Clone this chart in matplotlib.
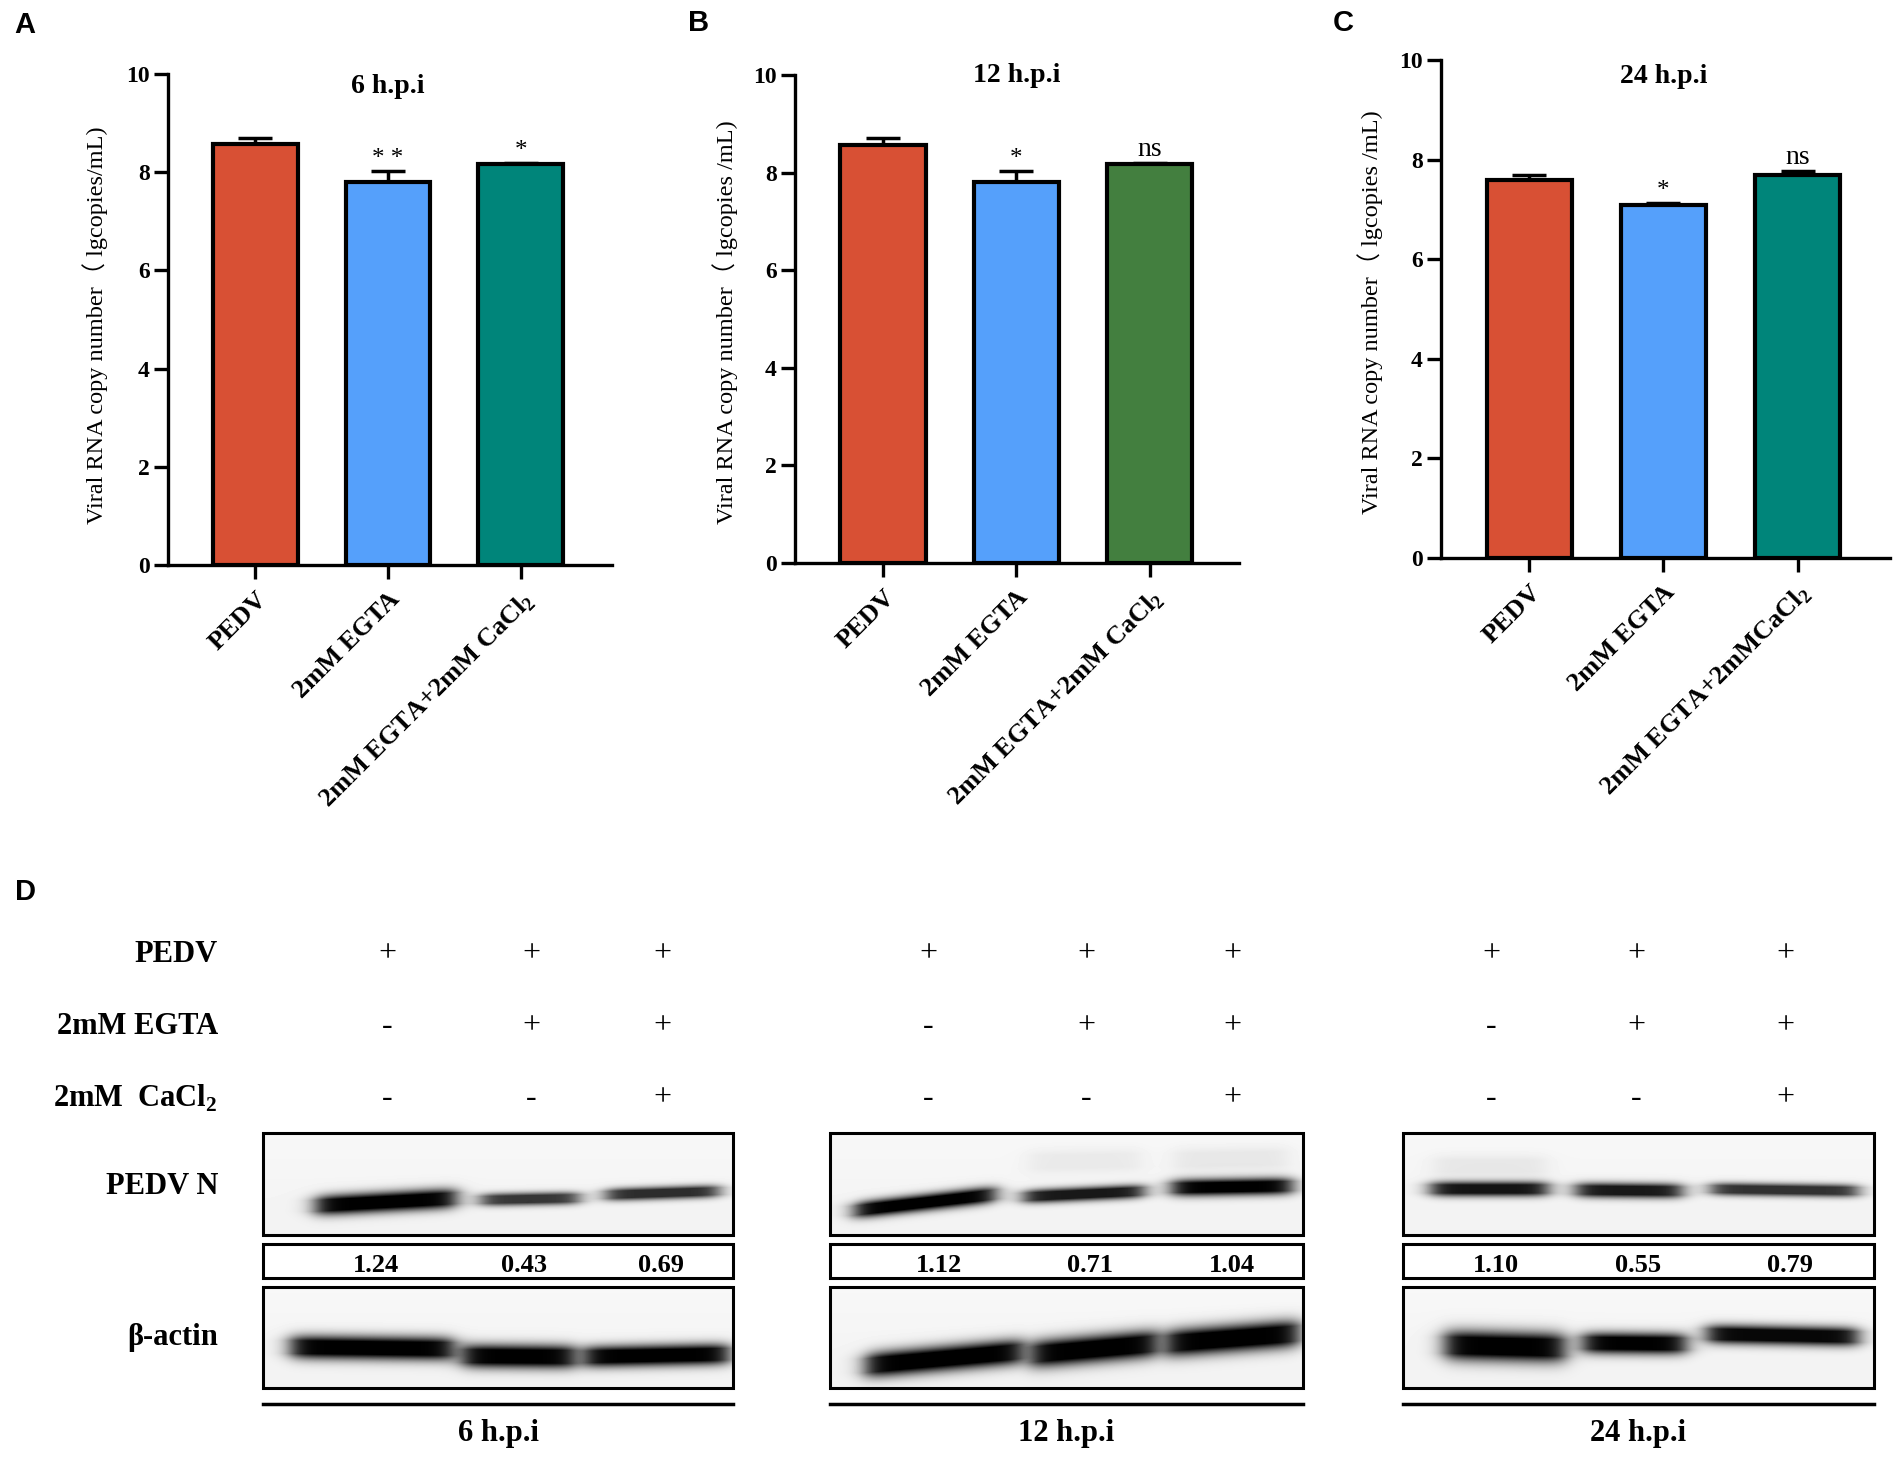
import numpy as np
import matplotlib
matplotlib.use("Agg")
import matplotlib.pyplot as plt
from matplotlib.patches import Rectangle

plt.rcParams['font.family'] = ['Liberation Serif', 'Noto Sans CJK SC', 'DejaVu Sans']
plt.rcParams['mathtext.fontset'] = 'custom'
plt.rcParams['mathtext.rm'] = 'Liberation Serif'
plt.rcParams['mathtext.bf'] = 'Liberation Serif:bold'

W, H = 1902, 1459

# ---- data ----
groups_ab = ["PEDV", "2mM EGTA", "2mM EGTA+2mM CaCl$_\\mathbf{2}$"]
groups_c = ["PEDV", "2mM EGTA", "2mM EGTA+2mMCaCl$_\\mathbf{2}$"]
times = ["6 h.p.i", "12 h.p.i", "24 h.p.i"]

means_6 = [8.57, 7.80, 8.16]
err_6 = [0.13, 0.23, 0.03]
sig_6 = ["", "* *", "*"]

means_12 = [8.57, 7.80, 8.17]
err_12 = [0.13, 0.24, 0.03]
sig_12 = ["", "*", "ns"]

means_24 = [7.60, 7.09, 7.69]
err_24 = [0.09, 0.04, 0.08]
sig_24 = ["", "*", "ns"]

ylabels = ["Viral RNA copy number\uff08 lgcopies/mL)",
           "Viral RNA copy number\uff08 lgcopies /mL)",
           "Viral RNA copy number\uff08 lgcopies /mL)"]

row_names = ["PEDV", "2mM EGTA", "2mM  CaCl$_\\mathbf{2}$"]
blot_names = ["PEDV N", "\u03b2-actin"]
treat_pedv = ["+", "+", "+"]
treat_egta = ["-", "+", "+"]
treat_cacl = ["-", "-", "+"]
ratios = [[1.24, 0.43, 0.69], [1.12, 0.71, 1.04], [1.10, 0.55, 0.79]]

red, blue, teal, green = "#D85034", "#55A0FB", "#00857A", "#437F3F"
bar_colors = [[red, blue, teal], [red, blue, green], [red, blue, teal]]

fig = plt.figure(figsize=(W / 100, H / 100), dpi=100)


def px_axes(x0, x1, y0, y1):
    return fig.add_axes([x0 / W, 1 - y1 / H, (x1 - x0) / W, (y1 - y0) / H])


# ---- bar panels ----
panels = [
    dict(box=(168, 612, 74, 565), xlim=(-0.66, 2.69), m=means_6, e=err_6, s=sig_6,
         lab=groups_ab, ty=9.75, yl=(95, 325), letter=("A", 14, 25)),
    dict(box=(795, 1239, 75, 563), xlim=(-0.66, 2.67), m=means_12, e=err_12, s=sig_12,
         lab=groups_ab, ty=9.98, yl=(725, 322), letter=("B", 688, 23)),
    dict(box=(1441, 1890, 60, 558), xlim=(-0.66, 2.69), m=means_24, e=err_24, s=sig_24,
         lab=groups_c, ty=9.67, yl=(1370, 312), letter=("C", 1333, 23)),
]

for i, p in enumerate(panels):
    ax = px_axes(*p["box"])
    x = np.arange(3)
    ax.errorbar(x, p["m"], yerr=[np.zeros(3), p["e"]], fmt="none", ecolor="black",
                elinewidth=2.5, capsize=12, capthick=2.5, zorder=1)
    ax.bar(x, p["m"], width=0.64, color=bar_colors[i], edgecolor="black",
           linewidth=3, zorder=2)
    for xi, mv, ev, st in zip(x, p["m"], p["e"], p["s"]):
        if st:
            fs = 20 if st == "ns" else 18
            ax.text(xi, mv + ev + 0.02, st, ha="center", va="bottom", fontsize=fs)
    ax.set_xlim(*p["xlim"])
    ax.set_ylim(0, 10)
    ax.set_yticks([0, 2, 4, 6, 8, 10])
    ax.set_xticks(x)
    ax.set_xticklabels(p["lab"], rotation=45, ha="right", rotation_mode="anchor",
                       fontweight="bold", fontsize=19)
    for t in ax.get_yticklabels():
        t.set_fontweight("bold")
        t.set_fontsize(17)
    ax.spines["top"].set_visible(False)
    ax.spines["right"].set_visible(False)
    for sp in ("left", "bottom"):
        ax.spines[sp].set_linewidth(2.4)
    ax.tick_params(axis="both", length=10, width=2.4, pad=3)
    ax.tick_params(axis="x", pad=6)
    ax.patch.set_alpha(0)
    ax.text(1.0, p["ty"], times[i], ha="center", va="center", fontsize=20,
            fontweight="bold")
    fig.text(p["yl"][0] / W, 1 - p["yl"][1] / H, ylabels[i], rotation=90,
             ha="center", va="center", fontsize=17.5)
    lt, lx, ly = p["letter"]
    fig.text(lx / W, 1 - ly / H, lt, ha="left", va="center", fontsize=21,
             fontweight="bold", family="Liberation Sans")

fig.text(15 / W, 1 - 892 / H, "D", ha="left", va="center", fontsize=21,
         fontweight="bold", family="Liberation Sans")

# ---- western blot panel ----
ov = fig.add_axes([0, 0, 1, 1], zorder=-1)
ov.axis("off")

box_x = [(263, 733), (830, 1303), (1403, 1874)]
lane_x = [[387, 531, 662], [928, 1086, 1232], [1491, 1636, 1785]]
num_x = [[376, 524, 661], [939, 1090, 1232], [1496, 1638, 1790]]
row_y = [954, 1026, 1098]
blot_y = [1186, 1338]
n_y, num_y, act_y = (1133, 1235), (1244, 1278), (1287, 1388)

# band geometry: x0, x1, y_left, y_right, half thickness, darkness
bands_n = [
    [(312, 460, 1206, 1198, 9.5, 1.0), (477, 583, 1200, 1198, 6.0, 0.78),
     (602, 723, 1195, 1191, 6.0, 0.82)],
    [(851, 999, 1211, 1194, 8.0, 1.0), (1020, 1148, 1197, 1191, 6.5, 0.9),
     (1168, 1296, 1188, 1186, 8.0, 1.0), (1025, 1145, 1162, 1160, 11, 0.05),
     (1170, 1292, 1160, 1158, 11, 0.06)],
    [(1427, 1552, 1189, 1189, 7.0, 0.92), (1572, 1686, 1190, 1191, 7.0, 0.9),
     (1707, 1862, 1189, 1191, 6.0, 0.8), (1430, 1550, 1166, 1166, 10, 0.06)],
]
bands_a = [
    [(287, 458, 1347, 1349, 11, 1.0), (458, 580, 1356, 1357, 11, 1.0),
     (580, 733, 1357, 1354, 10, 1.0)],
    [(862, 1027, 1366, 1351, 12, 1.0), (1027, 1162, 1355, 1343, 13, 1.0),
     (1162, 1303, 1344, 1333, 13, 1.0)],
    [(1441, 1569, 1345, 1348, 14, 1.0), (1579, 1690, 1343, 1344, 10, 1.0),
     (1703, 1862, 1334, 1337, 9, 0.97)],
]


def blot_image(x0, x1, y0, y1, bands):
    X, Y = np.meshgrid(np.arange(x0, x1) + 0.5, np.arange(y0, y1) + 0.5)
    keep = np.ones_like(X)
    for bx0, bx1, yl, yr, th, d in bands:
        t = np.clip((X - bx0) / (bx1 - bx0), 0, 1)
        yc = yl + (yr - yl) * t
        prof = np.clip(1.4 * np.exp(-((Y - yc) / th) ** 2), 0, 1)
        edge = 1 / (1 + np.exp(-(X - bx0 - 4) / 6)) / (1 + np.exp((X - bx1 + 4) / 6))
        keep *= 1 - d * prof * edge
    shade = 0.97 - 0.02 * (Y - y0) / (y1 - y0)
    return shade * keep


for r, name in enumerate(row_names):
    ov.text(218, row_y[r], name, ha="right", va="center", fontsize=22,
            fontweight="bold")
for r, name in enumerate(blot_names):
    ov.text(218, blot_y[r], name, ha="right", va="center", fontsize=22,
            fontweight="bold")

for g in range(3):
    bx0, bx1 = box_x[g]
    for r, signs in enumerate([treat_pedv, treat_egta, treat_cacl]):
        for k in range(3):
            ov.text(lane_x[g][k], row_y[r], signs[k], ha="center", va="center",
                    fontsize=23)
    for (yy0, yy1), bands in ((n_y, bands_n[g]), (act_y, bands_a[g])):
        img = blot_image(bx0, bx1, yy0, yy1, bands)
        ov.imshow(img, extent=(bx0, bx1, yy1, yy0), cmap="gray", vmin=0, vmax=1,
                  aspect="auto", interpolation="bilinear")
        ov.add_patch(Rectangle((bx0, yy0), bx1 - bx0, yy1 - yy0, fill=False,
                               edgecolor="black", linewidth=2.2))
    ov.add_patch(Rectangle((bx0, num_y[0]), bx1 - bx0, num_y[1] - num_y[0],
                           fill=False, edgecolor="black", linewidth=2.2))
    for k in range(3):
        ov.text(num_x[g][k], (num_y[0] + num_y[1]) / 2 + 4, f"{ratios[g][k]:.2f}",
                ha="center", va="center", fontsize=19, fontweight="bold")
    ov.plot([bx0, bx1], [1404, 1404], color="black", linewidth=2.5)
    ov.text((bx0 + bx1) / 2, 1433, times[g], ha="center", va="center",
            fontsize=22, fontweight="bold")

ov.set_xlim(0, W)
ov.set_ylim(H, 0)

fig.savefig("out.png", dpi=100)
